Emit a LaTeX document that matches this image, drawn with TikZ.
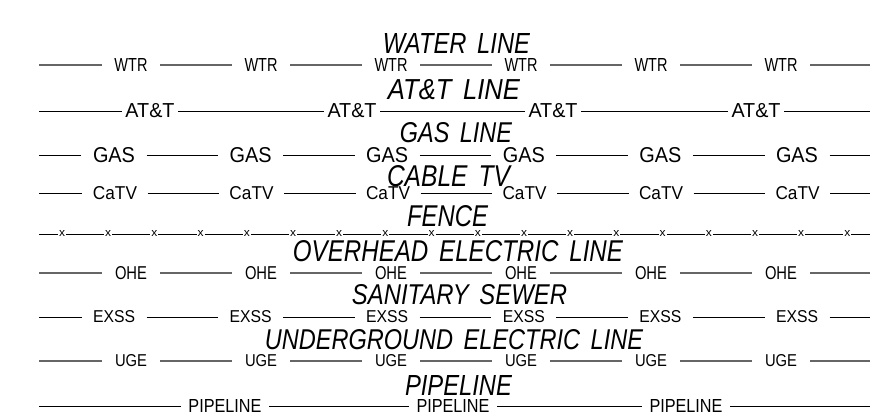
\documentclass[tikz,border=0pt]{standalone}
\usepackage{fontspec}
\setmainfont{Liberation Sans}
\setsansfont{Liberation Sans}
\usepackage{graphicx}
\newcommand\fitbox[3]{\resizebox{#1pt}{#2pt}{#3}}
\newcommand\ttl[3]{\resizebox{#1pt}{#2pt}{\itshape #3}}
\tikzset{
  lab/.style={inner ysep=0pt, outer sep=0pt, text=black},
  ttlnode/.style={inner sep=0pt, outer sep=0pt, text=black},
  bline/.style={draw=black, line width=0.8pt},
  gline/.style={draw=black!60, line width=1.3pt},
}
\begin{document}
\begin{tikzpicture}[x=1pt,y=-1pt]
\useasboundingbox (0,0) rectangle (876,418);
% ---------- WTR ----------
\coordinate (wL) at (39,65); \coordinate (wR) at (870,65);
\foreach \i in {0,...,5} \node[lab, inner xsep=12.5pt] (w\i) at ({131+130*\i},65) {\fitbox{33}{13}{WTR}};
\draw[gline] (wL) -- (w0.west);
\foreach \i/\j in {0/1,1/2,2/3,3/4,4/5} \draw[gline] (w\i.east) -- (w\j.west);
\draw[gline] (w5.east) -- (wR);
% ---------- AT&T ----------
\coordinate (aL) at (39,111); \coordinate (aR) at (870,111);
\foreach \i/\x in {0/150,1/352,2/553,3/756} \node[lab, inner xsep=3.5pt] (a\i) at (\x,111) {\fitbox{49}{14}{AT\&T}};
\draw[bline] (aL) -- (a0.west);
\foreach \i/\j in {0/1,1/2,2/3} \draw[bline] (a\i.east) -- (a\j.west);
\draw[bline] (a3.east) -- (aR);
% ---------- GAS ----------
\coordinate (gL) at (39,155); \coordinate (gR) at (870,155);
\foreach \i in {0,...,5} \node[lab, inner xsep=11.5pt] (g\i) at ({114+136.6*\i},155) {\fitbox{42}{15}{GAS}};
\draw[bline] (gL) -- (g0.west);
\foreach \i/\j in {0/1,1/2,2/3,3/4,4/5} \draw[bline] (g\i.east) -- (g\j.west);
\draw[bline] (g5.east) -- (gR);
% ---------- CaTV ----------
\coordinate (cL) at (39,193); \coordinate (cR) at (870,193);
\foreach \i in {0,...,5} \node[lab, inner xsep=10.5pt] (c\i) at ({115+136.5*\i},193) {\fitbox{44}{13}{CaTV}};
\draw[bline] (cL) -- (c0.west);
\foreach \i/\j in {0/1,1/2,2/3,3/4,4/5} \draw[bline] (c\i.east) -- (c\j.west);
\draw[bline] (c5.east) -- (cR);
% ---------- FENCE ----------
\coordinate (fL) at (39,234); \coordinate (fR) at (870,234);
\foreach \i in {0,...,17} \node[lab, inner xsep=1pt] (f\i) at ({62+46.2*\i},233.5) {\fitbox{6}{6}{x}};
\draw[bline] (fL) -- (f0.west |- fL);
\foreach \i [evaluate=\i as \j using int(\i+1)] in {0,...,16} \draw[bline] (f\i.east |- fL) -- (f\j.west |- fL);
\draw[bline] (f17.east |- fR) -- (fR);
% ---------- OHE ----------
\coordinate (oL) at (39,273); \coordinate (oR) at (870,273);
\foreach \i in {0,...,5} \node[lab, inner xsep=13pt] (o\i) at ({131+130*\i},273) {\fitbox{32}{13}{OHE}};
\draw[gline] (oL) -- (o0.west);
\foreach \i/\j in {0/1,1/2,2/3,3/4,4/5} \draw[gline] (o\i.east) -- (o\j.west);
\draw[gline] (o5.east) -- (oR);
% ---------- EXSS ----------
\coordinate (eL) at (39,317); \coordinate (eR) at (870,317);
\foreach \i in {0,...,5} \node[lab, inner xsep=11.5pt] (e\i) at ({114+136.6*\i},317) {\fitbox{42}{12}{EXSS}};
\draw[bline] (eL) -- (e0.west);
\foreach \i/\j in {0/1,1/2,2/3,3/4,4/5} \draw[bline] (e\i.east) -- (e\j.west);
\draw[bline] (e5.east) -- (eR);
% ---------- UGE ----------
\coordinate (uL) at (39,361); \coordinate (uR) at (870,361);
\foreach \i in {0,...,5} \node[lab, inner xsep=13pt] (u\i) at ({131+130*\i},361) {\fitbox{32}{12}{UGE}};
\draw[gline] (uL) -- (u0.west);
\foreach \i/\j in {0/1,1/2,2/3,3/4,4/5} \draw[gline] (u\i.east) -- (u\j.west);
\draw[gline] (u5.east) -- (uR);
% ---------- PIPELINE ----------
\coordinate (pL) at (39,406); \coordinate (pR) at (870,406);
\foreach \i/\x in {0/225,1/453,2/686} \node[lab, inner xsep=7.5pt] (p\i) at (\x,406) {\fitbox{73}{13}{PIPELINE}};
\draw[bline] (pL) -- (p0.west);
\foreach \i/\j in {0/1,1/2} \draw[bline] (p\i.east) -- (p\j.west);
\draw[bline] (p2.east) -- (pR);
% ---------- titles ----------
\node[ttlnode] (t1) at (456.5,43) {\ttl{147}{20}{WATER\hspace{0.45em}LINE}};
\node[ttlnode] (t2) at (454,90) {\ttl{132}{20}{AT\&T\hspace{0.45em}LINE}};
\node[ttlnode] (t3) at (456,133) {\ttl{112}{20}{GAS\hspace{0.45em}LINE}};
\node[ttlnode] (t4) at (448.5,176) {\ttl{123}{21}{CABLE\hspace{0.45em}TV}};
\node[ttlnode] (t5) at (447.5,216) {\ttl{81}{21}{FENCE}};
\node[ttlnode] (t6) at (458,251) {\ttl{330}{21}{OVERHEAD\hspace{0.45em}ELECTRIC\hspace{0.45em}LINE}};
\node[ttlnode] (t7) at (459.5,295) {\ttl{215}{20}{SANITARY\hspace{0.45em}SEWER}};
\node[ttlnode] (t8) at (454,340) {\ttl{378}{20}{UNDERGROUND\hspace{0.45em}ELECTRIC\hspace{0.45em}LINE}};
\node[ttlnode] (t9) at (458.5,385) {\ttl{107}{20}{PIPELINE}};
\end{tikzpicture}
\end{document}
